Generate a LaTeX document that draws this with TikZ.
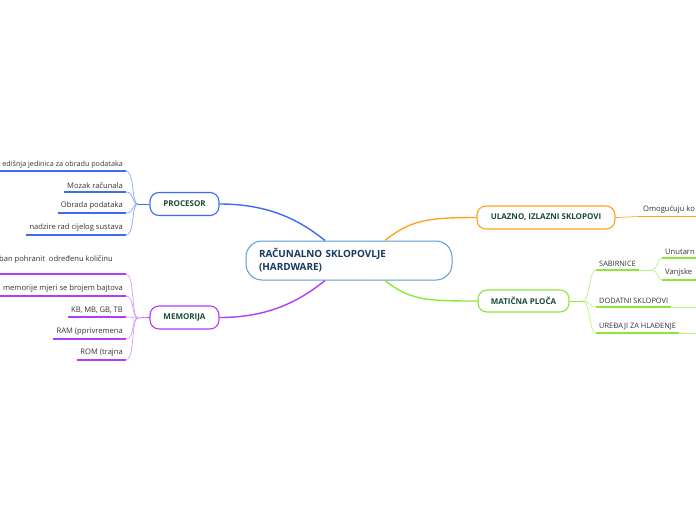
\documentclass[tikz,border=0pt]{standalone}
\usepackage{fontspec}
\setmainfont{Open Sans}
\definecolor{blueC}{HTML}{3A6CF4}
\definecolor{blueL}{HTML}{8AA8F8}
\definecolor{purpC}{HTML}{B03EF5}
\definecolor{purpL}{HTML}{D49AFA}
\definecolor{oranC}{HTML}{FFA21F}
\definecolor{greenC}{HTML}{8BE83A}
\definecolor{greenL}{HTML}{B9F28A}
\definecolor{rootC}{HTML}{5B9BD5}
\definecolor{rootT}{HTML}{173A5E}
\definecolor{titleT}{HTML}{1A4A3C}
\definecolor{leafT}{HTML}{333333}
\begin{document}
\begin{tikzpicture}[x=1pt,y=-1pt,
  rootbox/.style={draw=rootC,line width=1pt,fill=white,rounded corners=16pt,minimum width=206pt,minimum height=39pt,inner sep=0pt,text width=180pt,align=left,font=\fontsize{9.9}{12.8}\selectfont\bfseries,text=rootT},
  topbox/.style={draw=#1,line width=1.1pt,fill=white,rounded corners=9pt,minimum height=23pt,inner sep=0pt,font=\fontsize{8}{9}\selectfont\bfseries,text=titleT},
  leafL/.style={anchor=south east,inner xsep=3pt,inner ysep=3pt,font=\fontsize{7.6}{9}\selectfont,text=leafT},
  leafR/.style={anchor=south west,inner xsep=3pt,inner ysep=3pt,font=\fontsize{7.6}{9}\selectfont,text=leafT},
  capR/.style={anchor=south west,inner xsep=3pt,inner ysep=3pt,font=\fontsize{7.4}{9}\selectfont,text=leafT},
  mainline/.style={draw=#1,line width=1.4pt},
  under/.style={draw=#1,line width=1.8pt},
  thin/.style={draw=#1,line width=0.7pt}
]
\useasboundingbox (0,0) rectangle (696,520);
\clip (0,0) rectangle (696,520);

% root and main branches
\node[rootbox] (root) at (349,260.5) {RAČUNALNO SKLOPOVLJE\\(HARDWARE)};
\node[topbox=blueC,minimum width=69pt] (proc) at (184.5,204) {PROCESOR};
\node[topbox=purpC,minimum width=69pt] (mem) at (184.5,317.5) {MEMORIJA};
\node[topbox=oranC,minimum width=138pt] (io) at (546,217.5) {ULAZNO, IZLAZNI SKLOPOVI};
\node[topbox=greenC,minimum width=91pt,minimum height=22pt] (mb) at (523.5,301) {MATIČNA PLOČA};

\draw[mainline=blueC] (proc.east) .. controls +(50,0) and +(-25,-20) .. ([xshift=-24pt]root.north);
\draw[mainline=purpC] (mem.east) .. controls +(50,0) and +(-25,20) .. ([xshift=-24pt]root.south);
\draw[mainline=oranC] (io.west) .. controls +(-50,0) and +(25,-20) .. ([xshift=36pt]root.north);
\draw[mainline=greenC] (mb.west) .. controls +(-50,0) and +(25,20) .. ([xshift=36pt]root.south);

% PROCESOR leaves
\coordinate (pb) at (138,204);
\draw[thin=blueC] (pb) -- (proc.west);
\node[leafL,font=\fontsize{7.2}{9}\selectfont] (p1) at (126,171) {edišnja jedinica za obradu podataka};
\node[leafL] (p2) at (126,192) {Mozak računala};
\node[leafL] (p3) at (126,213) {Obrada podataka};
\node[leafL] (p4) at (126,235) {nadzire rad cijelog sustava};
\coordinate (p1s) at (0,171);
\draw[under=blueC] (p1s) -- (p1.south east);
\foreach \n in {p2,p3,p4}{
  \draw[under=blueC] (\n.south west) -- (\n.south east);
}
\foreach \n in {p1,p2,p3,p4}{
  \draw[thin=blueL] (\n.south east) .. controls +(9,0) and +(-7,0) .. (pb);
}

% MEMORIJA leaves
\coordinate (mbp) at (138,318);
\draw[thin=purpC] (mbp) -- (mem.west);
\node[leafL,anchor=base east,inner sep=0pt] (m0) at (113,261) {ban pohranit\ \ određenu količinu};
\coordinate (m1s) at (0,274);
\coordinate (m1) at (126,274);
\draw[under=purpC] (m1s) -- (m1);
\draw[thin=purpL] (m1) .. controls +(9,0) and +(-7,0) .. (mbp);
\node[leafL] (m2) at (126,296) {memorije mjeri se brojem bajtova};
\node[leafL] (m3) at (126,317) {KB, MB, GB, TB};
\node[leafL] (m4) at (126,339) {RAM (pprivremena};
\node[leafL] (m5) at (126,360) {ROM (trajna};
\foreach \n in {m2,m3,m4,m5}{
  \draw[under=purpC] (\n.south west) -- (\n.south east);
  \draw[thin=purpL] (\n.south east) .. controls +(9,0) and +(-7,0) .. (mbp);
}

% ULAZNO leaves
\node[leafR] (o1) at (640,216.5) {Omogućuju ko};
\draw[thin=oranC] (io.east) -- (o1.south west);
\coordinate (o1e) at (700,216.5);
\draw[under=oranC] (o1.south west) -- (o1e);

% MATICNA leaves
\coordinate (gb) at (583,301);
\draw[thin=greenC] (mb.east) -- (gb);
\node[capR] (g1) at (596,270) {SABIRNICE};
\node[capR] (g2) at (596,307) {DODATNI SKLOPOVI};
\node[capR] (g3) at (596,333) {UREĐAJI ZA HLAĐENJE};
\foreach \n in {g1,g2,g3}{
  \draw[under=greenC] (\n.south west) -- (\n.south east);
  \draw[thin=greenL] (gb) .. controls +(7,0) and +(-7,0) .. (\n.south west);
}
\coordinate (g2e) at (700,307);
\coordinate (g3e) at (700,333);
\draw[thin=greenL] (g2.south east) -- (g2e);
\draw[thin=greenL] (g3.south east) -- (g3e);

\coordinate (sb) at (652,270);
\draw[thin=greenL] (g1.south east) -- (sb);
\node[leafR] (s1) at (662,258) {Unutarn};
\node[leafR] (s2) at (662,280) {Vanjske};
\coordinate (s1e) at (700,258);
\coordinate (s2e) at (700,280);
\draw[under=greenC] (s1.south west) -- (s1e);
\draw[under=greenC] (s2.south west) -- (s2e);
\draw[thin=greenL] (sb) .. controls +(6,0) and +(-5,0) .. (s1.south west);
\draw[thin=greenL] (sb) .. controls +(6,0) and +(-5,0) .. (s2.south west);
\end{tikzpicture}
\end{document}
